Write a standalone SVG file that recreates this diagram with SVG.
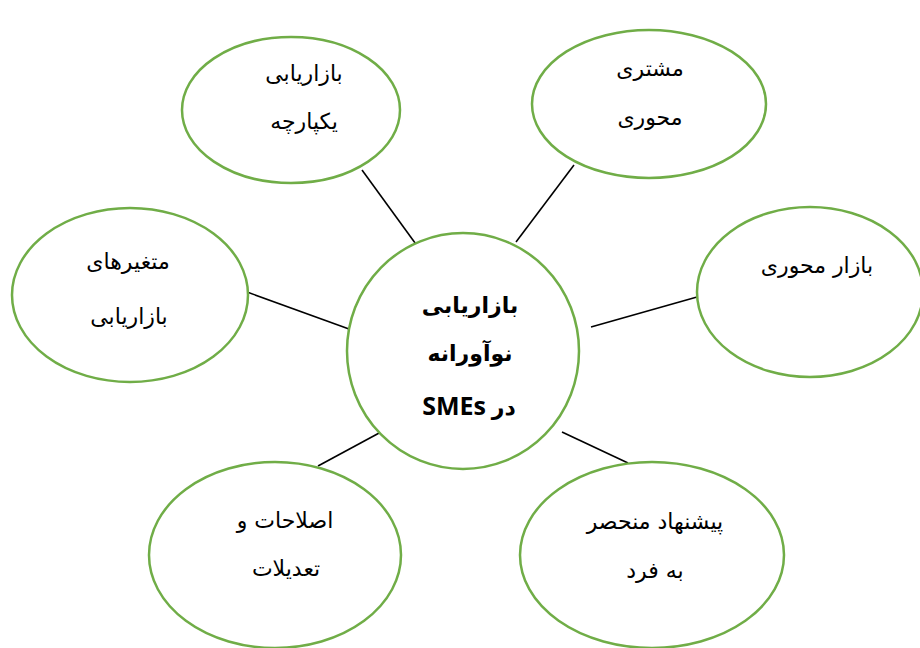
<svg xmlns="http://www.w3.org/2000/svg" width="920" height="648" viewBox="0 0 920 648">
<style>
.node{fill:#ffffff;stroke:#70AD47;stroke-width:2.5}
.lbl{font-family:"DejaVu Sans","Noto Sans",sans-serif;font-size:22px;fill:#000;text-anchor:middle;direction:rtl}
.ctr{font-family:"Open Sans","DejaVu Sans",sans-serif;font-size:22px;font-weight:bold;fill:#000;text-anchor:middle;direction:rtl}
.lat{font-size:25px}
.conn line{stroke:#000;stroke-width:1.6}
</style>
<rect width="920" height="648" fill="#ffffff"/>
<g id="connectors" class="conn">
<line x1="362" y1="170" x2="418" y2="247"/>
<line x1="574" y1="165" x2="516" y2="242"/>
<line x1="247" y1="292" x2="349" y2="329"/>
<line x1="697" y1="297" x2="591" y2="327"/>
<line x1="318" y1="466" x2="381" y2="432"/>
<line x1="562" y1="432" x2="628" y2="463"/>
</g>
<g id="center">
<ellipse class="node" cx="463" cy="351" rx="116" ry="118"/>
<text class="ctr" x="470" y="313">بازاریابی</text>
<text class="ctr" x="470" y="361">نوآورانه</text>
<text class="ctr" x="469" y="415">در <tspan class="lat">SMEs</tspan></text>
</g>
<g id="n-integrated">
<ellipse class="node" cx="291" cy="110" rx="109" ry="73"/>
<text class="lbl" x="304" y="81">بازاریابی</text>
<text class="lbl" x="304" y="129">یکپارچه</text>
</g>
<g id="n-customer">
<ellipse class="node" cx="649" cy="104" rx="117" ry="74"/>
<text class="lbl" x="650" y="76">مشتری</text>
<text class="lbl" x="650" y="125">محوری</text>
</g>
<g id="n-variables">
<ellipse class="node" cx="130" cy="295" rx="118" ry="87"/>
<text class="lbl" x="128" y="269">متغیرهای</text>
<text class="lbl" x="129" y="324">بازاریابی</text>
</g>
<g id="n-market">
<ellipse class="node" cx="810" cy="292" rx="113" ry="85"/>
<text class="lbl" x="817" y="273">بازار محوری</text>
</g>
<g id="n-reforms">
<ellipse class="node" cx="275" cy="555" rx="126" ry="93"/>
<text class="lbl" x="285" y="528">اصلاحات و</text>
<text class="lbl" x="286" y="576">تعدیلات</text>
</g>
<g id="n-usp">
<ellipse class="node" cx="652" cy="555" rx="132" ry="93"/>
<text class="lbl" x="655" y="529">پیشنهاد منحصر</text>
<text class="lbl" x="655" y="578">به فرد</text>
</g>
</svg>
